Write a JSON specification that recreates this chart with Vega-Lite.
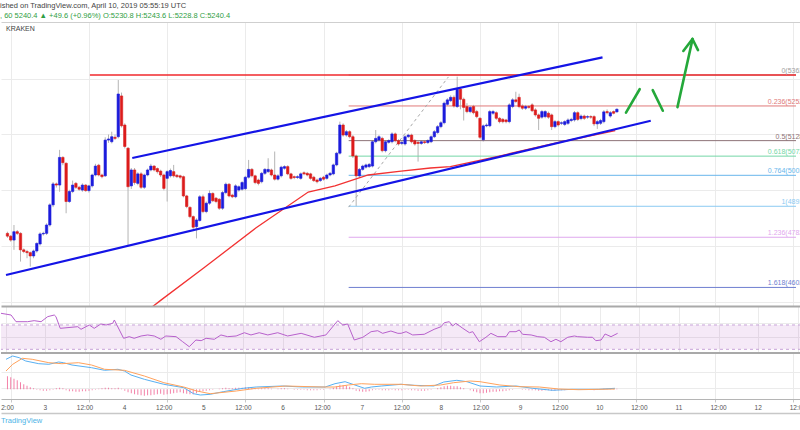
{
"$schema":"https://vega.github.io/schema/vega-lite/v6.json",
"padding":{"top":2,"left":0,"right":0,"bottom":0},
"background":"white",
"spacing":0,
"title":{"text":"ished on TradingView.com, April 10, 2019 05:55:19 UTC","subtitle":", 60  5240.4 ▲ +49.6 (+0.96%)  O:5230.8  H:5243.6  L:5228.8  C:5240.4","anchor":"start","font":"Liberation Sans","fontSize":7.5,"fontWeight":"normal","color":"#444444","subtitleFont":"Liberation Sans","subtitleFontSize":7.5,"subtitleColor":"#2f9e44","subtitlePadding":2,"offset":3},
"config":{"view":{"stroke":null},"axis":{"title":null,"labelFont":"Liberation Sans","labelFontSize":7,"labelColor":"#555555","gridColor":"#ebebeb","gridWidth":1,"domainColor":"#c8c8c8","tickColor":"#c8c8c8"}},
"resolve":{"scale":{"x":"independent","y":"independent","color":"independent"}},
"datasets":{
"ticks":[
{"t":-12,"label":"12:00"},{"t":0,"label":"3"},{"t":12,"label":"12:00"},{"t":24,"label":"4"},{"t":36,"label":"12:00"},{"t":48,"label":"5"},{"t":60,"label":"12:00"},{"t":72,"label":"6"},{"t":84,"label":"12:00"},{"t":96,"label":"7"},{"t":108,"label":"12:00"},{"t":120,"label":"8"},{"t":132,"label":"12:00"},{"t":144,"label":"9"},{"t":156,"label":"12:00"},{"t":168,"label":"10"},{"t":180,"label":"12:00"},{"t":192,"label":"11"},{"t":204,"label":"12:00"},{"t":216,"label":"12"},{"t":228,"label":"12:00"}
],
"candles":[
{"t":-13,"o":4796,"c":4786,"hi":4802,"lo":4780,"m":13},
{"t":-12,"o":4786,"c":4772,"hi":4790,"lo":4766,"m":12},
{"t":-11,"o":4772,"c":4802,"hi":4826,"lo":4737,"m":10.5},
{"t":-10,"o":4802,"c":4796,"hi":4808,"lo":4790,"m":9},
{"t":-9,"o":4796,"c":4737,"hi":4800,"lo":4695,"m":7},
{"t":-8,"o":4737,"c":4731,"hi":4742,"lo":4725,"m":5},
{"t":-7,"o":4731,"c":4727,"hi":4737,"lo":4707,"m":3.5},
{"t":-6,"o":4727,"c":4715,"hi":4731,"lo":4677,"m":2},
{"t":-5,"o":4715,"c":4733,"hi":4738,"lo":4707,"m":1},
{"t":-4,"o":4733,"c":4760,"hi":4764,"lo":4727,"m":-0.5},
{"t":-3,"o":4758,"c":4794,"hi":4800,"lo":4752,"m":-1},
{"t":-2,"o":4794,"c":4796,"hi":4802,"lo":4788,"m":-1.5},
{"t":-1,"o":4796,"c":4826,"hi":4832,"lo":4790,"m":-1.5},
{"t":0,"o":4826,"c":4898,"hi":4904,"lo":4820,"m":-1},
{"t":1,"o":4898,"c":4973,"hi":4980,"lo":4890,"m":-0.5},
{"t":2,"o":4973,"c":4969,"hi":4978,"lo":4960,"m":1},
{"t":3,"o":4969,"c":5068,"hi":5095,"lo":4945,"m":1.5},
{"t":4,"o":5068,"c":5049,"hi":5072,"lo":5040,"m":1},
{"t":5,"o":5047,"c":4910,"hi":5050,"lo":4868,"m":-1},
{"t":6,"o":4910,"c":4946,"hi":4952,"lo":4905,"m":-2},
{"t":7,"o":4946,"c":4969,"hi":4985,"lo":4940,"m":-2},
{"t":8,"o":4975,"c":4961,"hi":4980,"lo":4955,"m":-2.5},
{"t":9,"o":4961,"c":4954,"hi":4966,"lo":4948,"m":-2.5},
{"t":10,"o":4951,"c":4969,"hi":4975,"lo":4945,"m":-2},
{"t":11,"o":4969,"c":4949,"hi":4972,"lo":4945,"m":-2},
{"t":12,"o":4949,"c":4966,"hi":4970,"lo":4942,"m":-1.5},
{"t":13,"o":4966,"c":5005,"hi":5010,"lo":4960,"m":-1},
{"t":14,"o":5005,"c":5037,"hi":5045,"lo":5000,"m":-0.5},
{"t":15,"o":5040,"c":5005,"hi":5045,"lo":5000,"m":0.5},
{"t":16,"o":5005,"c":4999,"hi":5010,"lo":4993,"m":1},
{"t":17,"o":5002,"c":5130,"hi":5140,"lo":4998,"m":1.5},
{"t":18,"o":5130,"c":5134,"hi":5150,"lo":5120,"m":1.5},
{"t":19,"o":5124,"c":5142,"hi":5160,"lo":5118,"m":1},
{"t":20,"o":5140,"c":5136,"hi":5150,"lo":5130,"m":1},
{"t":21,"o":5142,"c":5295,"hi":5345,"lo":5136,"m":1.5},
{"t":22,"o":5288,"c":5181,"hi":5300,"lo":5175,"m":0.5},
{"t":23,"o":5184,"c":5107,"hi":5190,"lo":5100,"m":-1.5},
{"t":24,"o":5101,"c":4963,"hi":5105,"lo":4754,"m":-3},
{"t":25,"o":4966,"c":5023,"hi":5030,"lo":4955,"m":-4},
{"t":26,"o":5023,"c":4978,"hi":5030,"lo":4970,"m":-5},
{"t":27,"o":4975,"c":5009,"hi":5015,"lo":4968,"m":-5.5},
{"t":28,"o":5009,"c":4961,"hi":5015,"lo":4955,"m":-6},
{"t":29,"o":4961,"c":5005,"hi":5010,"lo":4955,"m":-6.5},
{"t":30,"o":5005,"c":5023,"hi":5028,"lo":5000,"m":-6},
{"t":31,"o":5023,"c":5037,"hi":5045,"lo":5018,"m":-6},
{"t":32,"o":5037,"c":5023,"hi":5040,"lo":5018,"m":-5.5},
{"t":33,"o":5028,"c":5017,"hi":5032,"lo":5010,"m":-5},
{"t":34,"o":5019,"c":5005,"hi":5024,"lo":4998,"m":-4.5},
{"t":35,"o":5005,"c":4957,"hi":5010,"lo":4950,"m":-5.5},
{"t":36,"o":4993,"c":5017,"hi":5022,"lo":4910,"m":-5},
{"t":37,"o":5002,"c":5021,"hi":5028,"lo":4996,"m":-4.5},
{"t":38,"o":5017,"c":5002,"hi":5041,"lo":4996,"m":-4},
{"t":39,"o":5004,"c":4999,"hi":5008,"lo":4994,"m":-3.5},
{"t":40,"o":5002,"c":4997,"hi":5006,"lo":4990,"m":-3},
{"t":41,"o":4999,"c":4930,"hi":5003,"lo":4925,"m":-4},
{"t":42,"o":4930,"c":4892,"hi":4934,"lo":4886,"m":-4.5},
{"t":43,"o":4889,"c":4856,"hi":4893,"lo":4850,"m":-5},
{"t":44,"o":4856,"c":4818,"hi":4860,"lo":4811,"m":-5},
{"t":45,"o":4820,"c":4844,"hi":4850,"lo":4778,"m":-4},
{"t":46,"o":4842,"c":4927,"hi":4933,"lo":4838,"m":-2.5},
{"t":47,"o":4927,"c":4874,"hi":4935,"lo":4868,"m":-2},
{"t":48,"o":4874,"c":4904,"hi":4910,"lo":4868,"m":-1.5},
{"t":49,"o":4904,"c":4939,"hi":4950,"lo":4898,"m":-1},
{"t":50,"o":4939,"c":4913,"hi":4943,"lo":4908,"m":-0.5},
{"t":51,"o":4922,"c":4910,"hi":4926,"lo":4904,"m":0},
{"t":52,"o":4918,"c":4886,"hi":4922,"lo":4880,"m":0.5},
{"t":53,"o":4886,"c":4942,"hi":4948,"lo":4880,"m":1},
{"t":54,"o":4942,"c":4972,"hi":4978,"lo":4936,"m":1.5},
{"t":55,"o":4972,"c":4930,"hi":4976,"lo":4925,"m":1},
{"t":56,"o":4933,"c":4927,"hi":4938,"lo":4922,"m":1},
{"t":57,"o":4927,"c":4966,"hi":4972,"lo":4922,"m":1.5},
{"t":58,"o":4951,"c":4963,"hi":4968,"lo":4945,"m":1.5},
{"t":59,"o":4954,"c":4978,"hi":4983,"lo":4948,"m":1.5},
{"t":60,"o":4956,"c":4997,"hi":5002,"lo":4950,"m":2},
{"t":61,"o":4997,"c":5025,"hi":5059,"lo":4992,"m":2},
{"t":62,"o":5025,"c":5002,"hi":5030,"lo":4996,"m":1.5},
{"t":63,"o":5002,"c":4978,"hi":5006,"lo":4972,"m":1},
{"t":64,"o":4987,"c":4975,"hi":4992,"lo":4968,"m":0.5},
{"t":65,"o":4981,"c":5011,"hi":5016,"lo":4975,"m":1},
{"t":66,"o":5011,"c":5025,"hi":5030,"lo":5005,"m":1},
{"t":67,"o":5017,"c":5025,"hi":5065,"lo":5012,"m":1},
{"t":68,"o":5023,"c":5005,"hi":5028,"lo":5000,"m":0.5},
{"t":69,"o":5005,"c":4990,"hi":5089,"lo":4985,"m":0},
{"t":70,"o":4990,"c":5002,"hi":5008,"lo":4985,"m":0.5},
{"t":71,"o":5002,"c":5033,"hi":5038,"lo":4996,"m":1},
{"t":72,"o":5029,"c":5035,"hi":5040,"lo":5024,"m":1},
{"t":73,"o":5035,"c":5009,"hi":5040,"lo":5004,"m":0.5},
{"t":74,"o":5009,"c":4993,"hi":5013,"lo":4988,"m":0},
{"t":75,"o":4999,"c":4996,"hi":5003,"lo":4990,"m":-0.5},
{"t":76,"o":4996,"c":4999,"hi":5004,"lo":4991,"m":-0.5},
{"t":77,"o":4993,"c":5009,"hi":5014,"lo":4988,"m":-0.5},
{"t":78,"o":5013,"c":5009,"hi":5018,"lo":5004,"m":-0.5},
{"t":79,"o":5011,"c":5005,"hi":5016,"lo":5000,"m":-1},
{"t":80,"o":5009,"c":4993,"hi":5013,"lo":4988,"m":-1},
{"t":81,"o":4997,"c":4985,"hi":5002,"lo":4980,"m":-1},
{"t":82,"o":4987,"c":4981,"hi":4992,"lo":4975,"m":-1},
{"t":83,"o":4985,"c":4993,"hi":4998,"lo":4980,"m":-0.5},
{"t":84,"o":4997,"c":4990,"hi":5002,"lo":4985,"m":-0.5},
{"t":85,"o":4993,"c":5005,"hi":5010,"lo":4988,"m":0},
{"t":86,"o":5005,"c":5011,"hi":5016,"lo":5000,"m":0.5},
{"t":87,"o":5009,"c":5041,"hi":5046,"lo":5004,"m":1.5},
{"t":88,"o":5041,"c":5083,"hi":5088,"lo":5036,"m":3},
{"t":89,"o":5083,"c":5184,"hi":5196,"lo":5078,"m":4.5},
{"t":90,"o":5184,"c":5148,"hi":5190,"lo":5142,"m":4},
{"t":91,"o":5148,"c":5160,"hi":5166,"lo":5142,"m":3.5},
{"t":92,"o":5160,"c":5142,"hi":5165,"lo":5136,"m":2.5},
{"t":93,"o":5142,"c":5073,"hi":5148,"lo":5066,"m":1},
{"t":94,"o":5073,"c":5002,"hi":5078,"lo":4893,"m":-1.5},
{"t":95,"o":5002,"c":5025,"hi":5030,"lo":4996,"m":-2},
{"t":96,"o":5025,"c":5037,"hi":5042,"lo":5020,"m":-2.5},
{"t":97,"o":5033,"c":5041,"hi":5046,"lo":5028,"m":-2.5},
{"t":98,"o":5035,"c":5043,"hi":5048,"lo":5030,"m":-2},
{"t":99,"o":5037,"c":5124,"hi":5130,"lo":5032,"m":-1},
{"t":100,"o":5124,"c":5136,"hi":5166,"lo":5118,"m":-0.5},
{"t":101,"o":5130,"c":5142,"hi":5148,"lo":5125,"m":-0.5},
{"t":102,"o":5136,"c":5092,"hi":5142,"lo":5086,"m":-1},
{"t":103,"o":5092,"c":5124,"hi":5130,"lo":5086,"m":-1},
{"t":104,"o":5122,"c":5128,"hi":5133,"lo":5117,"m":-1},
{"t":105,"o":5124,"c":5152,"hi":5158,"lo":5118,"m":-0.5},
{"t":106,"o":5152,"c":5128,"hi":5157,"lo":5122,"m":-1},
{"t":107,"o":5128,"c":5116,"hi":5133,"lo":5110,"m":-1},
{"t":108,"o":5118,"c":5122,"hi":5127,"lo":5112,"m":-1},
{"t":109,"o":5116,"c":5142,"hi":5148,"lo":5110,"m":-0.5},
{"t":110,"o":5142,"c":5148,"hi":5153,"lo":5137,"m":-0.5},
{"t":111,"o":5148,"c":5124,"hi":5153,"lo":5118,"m":-1},
{"t":112,"o":5128,"c":5116,"hi":5133,"lo":5110,"m":-1},
{"t":113,"o":5122,"c":5118,"hi":5127,"lo":5053,"m":-1.5},
{"t":114,"o":5118,"c":5124,"hi":5129,"lo":5113,"m":-1.5},
{"t":115,"o":5124,"c":5121,"hi":5129,"lo":5116,"m":-1.5},
{"t":116,"o":5121,"c":5128,"hi":5133,"lo":5116,"m":-1},
{"t":117,"o":5124,"c":5142,"hi":5147,"lo":5119,"m":-0.5},
{"t":118,"o":5142,"c":5160,"hi":5166,"lo":5137,"m":0},
{"t":119,"o":5157,"c":5178,"hi":5184,"lo":5152,"m":1},
{"t":120,"o":5178,"c":5192,"hi":5198,"lo":5172,"m":2},
{"t":121,"o":5192,"c":5262,"hi":5268,"lo":5186,"m":3},
{"t":122,"o":5258,"c":5274,"hi":5280,"lo":5252,"m":3.5},
{"t":123,"o":5271,"c":5283,"hi":5290,"lo":5266,"m":3.5},
{"t":124,"o":5283,"c":5252,"hi":5290,"lo":5246,"m":3},
{"t":125,"o":5250,"c":5312,"hi":5357,"lo":5245,"m":3},
{"t":126,"o":5312,"c":5276,"hi":5318,"lo":5240,"m":2},
{"t":127,"o":5276,"c":5247,"hi":5282,"lo":5200,"m":1},
{"t":128,"o":5250,"c":5232,"hi":5262,"lo":5226,"m":0},
{"t":129,"o":5232,"c":5247,"hi":5252,"lo":5226,"m":-1},
{"t":130,"o":5250,"c":5228,"hi":5256,"lo":5222,"m":-2},
{"t":131,"o":5232,"c":5214,"hi":5238,"lo":5208,"m":-3},
{"t":132,"o":5208,"c":5140,"hi":5212,"lo":5134,"m":-4},
{"t":133,"o":5131,"c":5181,"hi":5186,"lo":5125,"m":-4},
{"t":134,"o":5181,"c":5184,"hi":5190,"lo":5176,"m":-3.5},
{"t":135,"o":5181,"c":5232,"hi":5238,"lo":5176,"m":-3},
{"t":136,"o":5226,"c":5232,"hi":5238,"lo":5220,"m":-2.5},
{"t":137,"o":5228,"c":5208,"hi":5233,"lo":5202,"m":-2.5},
{"t":138,"o":5208,"c":5196,"hi":5212,"lo":5190,"m":-2},
{"t":139,"o":5204,"c":5196,"hi":5209,"lo":5190,"m":-2},
{"t":140,"o":5202,"c":5196,"hi":5206,"lo":5190,"m":-1.5},
{"t":141,"o":5196,"c":5256,"hi":5262,"lo":5190,"m":-1},
{"t":142,"o":5250,"c":5274,"hi":5280,"lo":5244,"m":-0.5},
{"t":143,"o":5274,"c":5268,"hi":5303,"lo":5262,"m":0},
{"t":144,"o":5283,"c":5250,"hi":5296,"lo":5244,"m":0},
{"t":145,"o":5252,"c":5244,"hi":5258,"lo":5238,"m":-0.5},
{"t":146,"o":5244,"c":5250,"hi":5256,"lo":5238,"m":-0.5},
{"t":147,"o":5250,"c":5247,"hi":5255,"lo":5242,"m":-1},
{"t":148,"o":5256,"c":5235,"hi":5262,"lo":5230,"m":-1},
{"t":149,"o":5238,"c":5220,"hi":5244,"lo":5214,"m":-1},
{"t":150,"o":5220,"c":5208,"hi":5225,"lo":5166,"m":-1.5},
{"t":151,"o":5212,"c":5232,"hi":5238,"lo":5206,"m":-1.5},
{"t":152,"o":5214,"c":5232,"hi":5237,"lo":5208,"m":-1},
{"t":153,"o":5226,"c":5212,"hi":5232,"lo":5206,"m":-1},
{"t":154,"o":5220,"c":5178,"hi":5225,"lo":5166,"m":-1.5},
{"t":155,"o":5178,"c":5196,"hi":5202,"lo":5172,"m":-1.5},
{"t":156,"o":5196,"c":5184,"hi":5201,"lo":5178,"m":-1},
{"t":157,"o":5190,"c":5192,"hi":5197,"lo":5184,"m":-1},
{"t":158,"o":5186,"c":5196,"hi":5201,"lo":5180,"m":-1},
{"t":159,"o":5190,"c":5202,"hi":5208,"lo":5184,"m":-0.5},
{"t":160,"o":5200,"c":5204,"hi":5210,"lo":5194,"m":-0.5},
{"t":161,"o":5202,"c":5228,"hi":5234,"lo":5196,"m":0},
{"t":162,"o":5228,"c":5204,"hi":5233,"lo":5198,"m":0},
{"t":163,"o":5207,"c":5216,"hi":5222,"lo":5201,"m":0},
{"t":164,"o":5216,"c":5208,"hi":5221,"lo":5202,"m":-0.5},
{"t":165,"o":5212,"c":5214,"hi":5219,"lo":5206,"m":-0.5},
{"t":166,"o":5214,"c":5212,"hi":5219,"lo":5206,"m":-0.5},
{"t":167,"o":5214,"c":5188,"hi":5219,"lo":5180,"m":-1},
{"t":168,"o":5188,"c":5196,"hi":5202,"lo":5170,"m":-0.5},
{"t":169,"o":5190,"c":5200,"hi":5206,"lo":5184,"m":0},
{"t":170,"o":5196,"c":5231,"hi":5237,"lo":5190,"m":0.5},
{"t":171,"o":5232,"c":5228,"hi":5240,"lo":5222,"m":0.5},
{"t":172,"o":5216,"c":5228,"hi":5234,"lo":5210,"m":0.5},
{"t":173,"o":5232,"c":5226,"hi":5236,"lo":5222,"m":0.5},
{"t":174,"o":5230.8,"c":5240.4,"hi":5243.6,"lo":5228.8,"m":0.5}
],
"segs":[
{"kind":"channel","t1":25.3,"p1":5066,"t2":169.6,"p2":5426},
{"kind":"channel","t1":-13.45,"p1":4647,"t2":184.4,"p2":5199},
{"kind":"resistance","t1":12.3,"p1":5363,"t2":228.97,"p2":5363},
{"kind":"fibtrend","t1":91.7,"p1":4890,"t2":122.3,"p2":5356},
{"kind":"arrow","t1":176.8,"p1":5228,"t2":181.0,"p2":5312},
{"kind":"arrow","t1":185.0,"p1":5309,"t2":188.1,"p2":5235},
{"kind":"arrow","t1":192.6,"p1":5248,"t2":197.2,"p2":5490},
{"kind":"arrow","t1":194.4,"p1":5449,"t2":197.2,"p2":5492},
{"kind":"arrow","t1":197.2,"p1":5492,"t2":198.9,"p2":5452}
],
"fib":[
{"lv":"0","p":5363,"label":"0(5363.0)"},
{"lv":"0.236","p":5252.1,"label":"0.236(5252.1)"},
{"lv":"0.5","p":5128,"label":"0.5(5128.0)"},
{"lv":"0.618","p":5072.5,"label":"0.618(5072.5)"},
{"lv":"0.764","p":5003.9,"label":"0.764(5003.9)"},
{"lv":"1","p":4893,"label":"1(4893.0)"},
{"lv":"1.236","p":4782.1,"label":"1.236(4782.1)"},
{"lv":"1.618","p":4602.5,"label":"1.618(4602.5)"}
],
"ma":[
{"t":29.0,"p":4511},{"t":34.1,"p":4557},{"t":47.2,"p":4672},{"t":63.2,"p":4815},{"t":79.3,"p":4944},{"t":87.5,"p":4966},{"t":97.7,"p":5005},{"t":107.8,"p":5019},{"t":116.8,"p":5030},{"t":122.9,"p":5035},{"t":137.2,"p":5071},{"t":157.1,"p":5124},{"t":173.5,"p":5164}
],
"rsi":[
{"t":-13.45,"r":89.2},{"t":-10.4,"r":86.4},{"t":-8.9,"r":75.4},{"t":-5.4,"r":75.4},{"t":-3.4,"r":77.1},{"t":-1.3,"r":75.4},{"t":0.7,"r":83.7},{"t":2.7,"r":86.4},{"t":3.2,"r":83.7},{"t":4.5,"r":64.5},{"t":9.8,"r":67.2},{"t":10.8,"r":62.9},{"t":13.3,"r":70},{"t":14.8,"r":64.5},{"t":16.8,"r":71.6},{"t":18.4,"r":70},{"t":20.4,"r":72.7},{"t":20.9,"r":78.2},{"t":23.7,"r":48.1},{"t":25.4,"r":50.8},{"t":26.9,"r":48.1},{"t":29.0,"r":51.9},{"t":31.0,"r":53.6},{"t":33.0,"r":51.9},{"t":35.0,"r":46.5},{"t":36.5,"r":51.9},{"t":39.6,"r":50.8},{"t":41.6,"r":42.5},{"t":43.6,"r":34.3},{"t":45.6,"r":45.3},{"t":47.2,"r":44.2},{"t":48.7,"r":48.1},{"t":51.2,"r":46.5},{"t":53.2,"r":53.6},{"t":55.2,"r":50.8},{"t":57.8,"r":51.9},{"t":60.3,"r":57.3},{"t":62.3,"r":53.6},{"t":64.8,"r":57.3},{"t":67.4,"r":53.6},{"t":70.4,"r":57.3},{"t":73.4,"r":51.9},{"t":77.5,"r":56.3},{"t":81.5,"r":49.8},{"t":85.0,"r":53.6},{"t":87.5,"r":70},{"t":88.6,"r":77.1},{"t":90.1,"r":70},{"t":91.6,"r":71.6},{"t":93.6,"r":45.3},{"t":96.2,"r":49.8},{"t":98.7,"r":59},{"t":100.7,"r":60.6},{"t":102.2,"r":56.3},{"t":104.7,"r":60.1},{"t":106.8,"r":56.3},{"t":107.8,"r":56.3},{"t":109.3,"r":59},{"t":111.3,"r":53.6},{"t":114.8,"r":54.7},{"t":117.8,"r":62.9},{"t":119.9,"r":67.2},{"t":120.9,"r":73.8},{"t":122.4,"r":75.4},{"t":123.4,"r":68.4},{"t":124.4,"r":72.7},{"t":126.5,"r":64.5},{"t":128.5,"r":57.3},{"t":129.5,"r":59},{"t":131.5,"r":42.5},{"t":133.5,"r":49.8},{"t":135.0,"r":56.3},{"t":137.1,"r":50.8},{"t":139.6,"r":50.8},{"t":140.6,"r":59},{"t":142.6,"r":59},{"t":143.6,"r":61.8},{"t":144.6,"r":54.7},{"t":147.2,"r":53.6},{"t":149.2,"r":50.8},{"t":151.2,"r":49.8},{"t":153.2,"r":42.5},{"t":154.7,"r":46.5},{"t":156.2,"r":42.5},{"t":158.3,"r":49.8},{"t":160.3,"r":51.9},{"t":161.3,"r":50.8},{"t":164.3,"r":49.8},{"t":165.8,"r":49.8},{"t":166.8,"r":44.2},{"t":168.4,"r":45.3},{"t":169.6,"r":55.2},{"t":171.4,"r":50.8},{"t":173.4,"r":56.3}
],
"macd":[
{"s":"MACD","t":-13.45,"v":30},{"s":"MACD","t":-11.4,"v":33.3},{"s":"MACD","t":-9.4,"v":31.6},{"s":"MACD","t":-7.4,"v":28.3},{"s":"MACD","t":-3.4,"v":25.6},{"s":"MACD","t":-0.3,"v":25},{"s":"MACD","t":2.7,"v":27.3},{"s":"MACD","t":4.2,"v":26.6},{"s":"MACD","t":6.8,"v":24.3},{"s":"MACD","t":12.8,"v":21.6},{"s":"MACD","t":16.8,"v":19},{"s":"MACD","t":20.9,"v":20},{"s":"MACD","t":22.9,"v":18.3},{"s":"MACD","t":24.9,"v":14.3},{"s":"MACD","t":29.0,"v":10},{"s":"MACD","t":35.0,"v":5},{"s":"MACD","t":41.1,"v":1.6},{"s":"MACD","t":44.1,"v":-4.4},{"s":"MACD","t":46.2,"v":-5.7},{"s":"MACD","t":49.2,"v":-5},{"s":"MACD","t":53.2,"v":-2.4},{"s":"MACD","t":59.3,"v":1},{"s":"MACD","t":63.3,"v":2.3},{"s":"MACD","t":71.4,"v":3.3},{"s":"MACD","t":77.5,"v":2.3},{"s":"MACD","t":84.5,"v":2.3},{"s":"MACD","t":87.5,"v":5.6},{"s":"MACD","t":90.6,"v":7.6},{"s":"MACD","t":93.6,"v":4.3},{"s":"MACD","t":96.6,"v":1},{"s":"MACD","t":98.7,"v":2.3},{"s":"MACD","t":101.7,"v":3.3},{"s":"MACD","t":107.8,"v":5},{"s":"MACD","t":111.8,"v":4},{"s":"MACD","t":117.8,"v":3.3},{"s":"MACD","t":120.9,"v":7.3},{"s":"MACD","t":124.9,"v":9},{"s":"MACD","t":128.0,"v":7.6},{"s":"MACD","t":132.0,"v":3.3},{"s":"MACD","t":137.1,"v":2.3},{"s":"MACD","t":143.1,"v":3.3},{"s":"MACD","t":148.2,"v":1},{"s":"MACD","t":154.2,"v":-1},{"s":"MACD","t":160.3,"v":0},{"s":"MACD","t":168.4,"v":0},{"s":"MACD","t":173.4,"v":1},
{"s":"Signal","t":-13.45,"v":18.3},{"s":"Signal","t":-11.4,"v":25},{"s":"Signal","t":-8.4,"v":31},{"s":"Signal","t":-5.4,"v":30},{"s":"Signal","t":-0.3,"v":26.6},{"s":"Signal","t":3.7,"v":25.6},{"s":"Signal","t":8.8,"v":26.6},{"s":"Signal","t":12.8,"v":24.3},{"s":"Signal","t":16.8,"v":20},{"s":"Signal","t":22.9,"v":19},{"s":"Signal","t":29.0,"v":13.3},{"s":"Signal","t":35.0,"v":6.6},{"s":"Signal","t":41.1,"v":2.3},{"s":"Signal","t":45.1,"v":-1.7},{"s":"Signal","t":49.2,"v":-4.4},{"s":"Signal","t":57.2,"v":-1.7},{"s":"Signal","t":63.3,"v":1},{"s":"Signal","t":72.4,"v":3.3},{"s":"Signal","t":83.5,"v":2.3},{"s":"Signal","t":87.5,"v":2.3},{"s":"Signal","t":91.6,"v":4.3},{"s":"Signal","t":95.6,"v":5.6},{"s":"Signal","t":99.7,"v":5},{"s":"Signal","t":107.8,"v":5},{"s":"Signal","t":113.8,"v":3.3},{"s":"Signal","t":119.9,"v":4.3},{"s":"Signal","t":123.9,"v":6.6},{"s":"Signal","t":129.0,"v":8.3},{"s":"Signal","t":132.0,"v":7.6},{"s":"Signal","t":138.1,"v":4.3},{"s":"Signal","t":144.1,"v":2.6},{"s":"Signal","t":150.2,"v":2.3},{"s":"Signal","t":156.2,"v":0.3},{"s":"Signal","t":162.3,"v":-0.4},{"s":"Signal","t":173.4,"v":0.3}
]
},
"vconcat":[
{
"width":800,"height":284,
"layer":[
{"data":{"name":"candles"},"mark":{"type":"rule","color":"#b4b4b4","strokeWidth":1},
 "encoding":{
  "x":{"field":"t","type":"quantitative","scale":{"domain":[-13.45,228.97],"nice":false,"zero":false},"axis":{"orient":"top","labels":false,"ticks":false,"domain":true,"domainColor":"#cfcfcf","grid":true,"values":[-12,0,12,24,36,48,60,72,84,96,108,120,132,144,156,168,180,192,204,216,228]}},
  "y":{"field":"lo","type":"quantitative","scale":{"domain":[4536,5552.7],"nice":false,"zero":false},"axis":{"orient":"right","labels":false,"ticks":false,"domain":false,"grid":true,"values":[4550,4600,4650,4700,4750,4800,4850,4900,4950,5000,5050,5100,5150,5200,5250,5300,5350,5400,5450,5500]}},
  "y2":{"field":"hi"}}},
{"data":{"name":"fib"},"mark":{"type":"rule","strokeWidth":1},
 "encoding":{"x":{"datum":91.7},"x2":{"datum":228.97},"y":{"field":"p","type":"quantitative"},
  "color":{"field":"lv","type":"nominal","scale":{"domain":["0","0.236","0.5","0.618","0.764","1","1.236","1.618"],"range":["#9e9e9e","#e07a7a","#8d7377","#74d6a6","#68b6ec","#8ccaf2","#dfa8ee","#6f7fd0"]},"legend":null}}},
{"data":{"name":"segs"},"transform":[{"filter":"datum.kind == 'fibtrend'"}],"mark":{"type":"rule","color":"#a8a8a8","strokeWidth":1,"strokeDash":[3,3]},
 "encoding":{"x":{"field":"t1","type":"quantitative"},"y":{"field":"p1","type":"quantitative"},"x2":{"field":"t2"},"y2":{"field":"p2"}}},
{"data":{"name":"segs"},"transform":[{"filter":"datum.kind == 'resistance'"}],"mark":{"type":"rule","color":"#f0282d","strokeWidth":1.6},
 "encoding":{"x":{"field":"t1","type":"quantitative"},"y":{"field":"p1","type":"quantitative"},"x2":{"field":"t2"},"y2":{"field":"p2"}}},
{"data":{"name":"ma"},"mark":{"type":"line","color":"#f23232","strokeWidth":1.3,"clip":true},
 "encoding":{"x":{"field":"t","type":"quantitative"},"y":{"field":"p","type":"quantitative"}}},
{"data":{"name":"candles"},"mark":{"type":"bar","size":2.4,"strokeWidth":0.6},
 "encoding":{"x":{"field":"t","type":"quantitative"},"y":{"field":"o","type":"quantitative"},"y2":{"field":"c"},
  "color":{"condition":{"test":"datum.c >= datum.o","value":"#1c1cdc"},"value":"#dc1c1c"},
  "stroke":{"condition":{"test":"datum.c >= datum.o","value":"#1c1cdc"},"value":"#dc1c1c"}}},
{"data":{"name":"segs"},"transform":[{"filter":"datum.kind == 'channel'"}],"mark":{"type":"rule","color":"#1414e6","strokeWidth":2.2},
 "encoding":{"x":{"field":"t1","type":"quantitative"},"y":{"field":"p1","type":"quantitative"},"x2":{"field":"t2"},"y2":{"field":"p2"}}},
{"data":{"name":"segs"},"transform":[{"filter":"datum.kind == 'arrow'"}],"mark":{"type":"rule","color":"#24a83a","strokeWidth":2.6,"strokeCap":"round"},
 "encoding":{"x":{"field":"t1","type":"quantitative"},"y":{"field":"p1","type":"quantitative"},"x2":{"field":"t2"},"y2":{"field":"p2"}}},
{"data":{"name":"fib"},"mark":{"type":"text","align":"right","baseline":"bottom","dy":-1,"fontSize":7,"font":"Liberation Sans","clip":true},
 "encoding":{"x":{"datum":233.7},"y":{"field":"p","type":"quantitative"},"text":{"field":"label"},"color":{"field":"lv","type":"nominal","legend":null}}},
{"data":{"values":[{"label":"KRAKEN"}]},"mark":{"type":"text","align":"left","baseline":"middle","fontSize":7,"font":"Liberation Sans","color":"#444444"},
 "encoding":{"x":{"datum":-13.45},"y":{"datum":5527},"text":{"field":"label"}}}
]
},
{
"width":800,"height":46,
"layer":[
{"data":{"values":[{"lo":30,"hi":70}]},"mark":{"type":"rect","color":"#9c27b0","opacity":0.1},
 "encoding":{"y":{"field":"lo","type":"quantitative","scale":{"domain":[25.6,101.2],"nice":false,"zero":false},"axis":{"orient":"right","labels":false,"ticks":false,"domain":false,"grid":true,"values":[50,72.8]}},"y2":{"field":"hi"}}},
{"data":{"values":[{"v":30},{"v":70}]},"mark":{"type":"rule","color":"#c7a3d8","strokeWidth":1,"strokeDash":[3,3]},
 "encoding":{"y":{"field":"v","type":"quantitative"}}},
{"data":{"name":"rsi"},"mark":{"type":"line","color":"#b760cc","strokeWidth":1,"clip":true},
 "encoding":{"x":{"field":"t","type":"quantitative","scale":{"domain":[-13.45,228.97],"nice":false,"zero":false},"axis":{"orient":"top","labels":false,"ticks":false,"domain":true,"domainColor":"#a9a9a9","domainWidth":2,"grid":true,"values":[-12,0,12,24,36,48,60,72,84,96,108,120,132,144,156,168,180,192,204,216,228]}},
  "y":{"field":"r","type":"quantitative"}}}
]
},
{
"width":800,"height":46,
"layer":[
{"data":{"name":"candles"},"mark":{"type":"bar","color":"#f06292","size":1,"opacity":0.8},
 "encoding":{"x":{"field":"t","type":"quantitative","scale":{"domain":[-13.45,228.97],"nice":false,"zero":false},"axis":{"orient":"bottom","labels":false,"ticks":true,"tickSize":3,"domain":true,"domainColor":"#b5b5b5","grid":true,"values":[-12,0,12,24,36,48,60,72,84,96,108,120,132,144,156,168,180,192,204,216,228]}},
  "y":{"field":"m","type":"quantitative","scale":{"domain":[-9.7,36.3],"nice":false,"zero":false},"axis":{"orient":"right","labels":false,"ticks":false,"domain":false,"grid":true,"values":[1,17.6]}},
  "y2":{"datum":0}}},
{"data":{"name":"macd"},"mark":{"type":"line","strokeWidth":1,"clip":true},
 "encoding":{"x":{"field":"t","type":"quantitative"},"y":{"field":"v","type":"quantitative"},
  "color":{"field":"s","type":"nominal","scale":{"domain":["MACD","Signal"],"range":["#58b0f2","#ffa25c"]},"legend":null}}},
{"data":{"values":[{"v":36.3}]},"mark":{"type":"rule","color":"#a9a9a9","strokeWidth":2},
 "encoding":{"y":{"field":"v","type":"quantitative"}}}
]
},
{
"width":800,"height":10,
"data":{"name":"ticks"},
"mark":{"type":"text","fontSize":6.5,"font":"Liberation Sans","color":"#555555","baseline":"middle","clip":true},
"encoding":{"x":{"field":"t","type":"quantitative","scale":{"domain":[-13.45,228.97],"nice":false,"zero":false},"axis":{"orient":"bottom","labels":false,"ticks":false,"grid":false,"domain":true,"domainColor":"#c8c8c8","domainWidth":1.5}},"text":{"field":"label"}},
"title":{"text":"TradingView","orient":"bottom","anchor":"start","color":"#4db3e6","fontSize":7.5,"font":"Liberation Sans","fontWeight":"normal","offset":4}
}
]
}
